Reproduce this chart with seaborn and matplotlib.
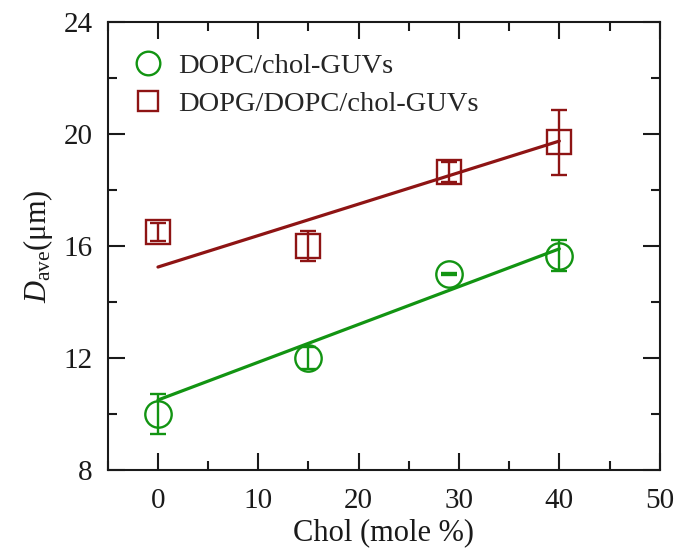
import numpy as np
import pandas as pd
import matplotlib
matplotlib.use("Agg")
import matplotlib.pyplot as plt
import seaborn as sns
from matplotlib.lines import Line2D
from matplotlib.ticker import MultipleLocator

# --- data ---
chol = [0, 15, 29, 40]
dopc_d = [10.0, 12.0, 15.0, 15.65]
dopc_err = [0.7, 0.4, 0.05, 0.55]
dopg_d = [16.5, 16.0, 18.65, 19.7]
dopg_err = [0.31, 0.55, 0.36, 1.15]

# linear fits (end points as drawn)
fit_x = [0, 40]
dopc_fit = [10.5, 15.9]
dopg_fit = [15.25, 19.75]

labels = ["DOPC/chol-GUVs", "DOPG/DOPC/chol-GUVs"]
GREEN = "#129412"
RED = "#8E1414"
INK = "#1a1a1a"

sns.set_theme(style="ticks")
plt.rcParams["font.family"] = ["Liberation Serif", "DejaVu Serif"]
plt.rcParams["mathtext.fontset"] = "custom"
plt.rcParams["mathtext.rm"] = "Liberation Serif"
plt.rcParams["mathtext.it"] = "Liberation Serif:italic"

fig = plt.figure(figsize=(6.78, 5.52), dpi=100)
ax = fig.add_axes([0.159, 0.1486, 0.814, 0.8114])

fits = pd.DataFrame({
    "x": fit_x * 2,
    "y": dopc_fit + dopg_fit,
    "series": [labels[0]] * 2 + [labels[1]] * 2,
})
sns.lineplot(data=fits, x="x", y="y", hue="series", palette=[GREEN, RED],
             linewidth=2.3, legend=False, ax=ax, zorder=3)

ax.errorbar(chol, dopc_d, yerr=dopc_err, fmt="o", ms=19, mfc="none",
            mec=GREEN, mew=1.7, ecolor=GREEN, elinewidth=1.7, capsize=6,
            capthick=1.7, zorder=2)
ax.errorbar(chol, dopg_d, yerr=dopg_err, fmt="s", ms=17, mfc="none",
            mec=RED, mew=1.7, ecolor=RED, elinewidth=1.7, capsize=6,
            capthick=1.7, zorder=2)

ax.set_xlim(-5, 50)
ax.set_ylim(8, 24)
ax.xaxis.set_major_locator(MultipleLocator(10))
ax.xaxis.set_minor_locator(MultipleLocator(5))
ax.yaxis.set_major_locator(MultipleLocator(4))
ax.yaxis.set_minor_locator(MultipleLocator(2))
ax.tick_params(which="both", direction="in", top=True, right=True,
               width=1.5, colors=INK, labelsize=21, labelcolor=INK)
ax.tick_params(which="major", length=12)
ax.tick_params(axis="x", which="major", pad=13)
ax.tick_params(axis="y", which="major", pad=11)
ax.tick_params(which="minor", length=6.5)
for s in ax.spines.values():
    s.set_visible(True)
    s.set_linewidth(1.5)
    s.set_color(INK)

ax.set_xlabel("Chol (mole %)", fontsize=22, color=INK, labelpad=3)
ax.set_ylabel(r"$D_{\rm ave}$(μm)", fontsize=22, color=INK, labelpad=6)

handles = [
    Line2D([], [], marker="o", ls="none", ms=17, mfc="none", mec=GREEN, mew=1.7),
    Line2D([], [], marker="s", ls="none", ms=15, mfc="none", mec=RED, mew=1.7),
]
ax.legend(handles, labels, loc="upper left", frameon=False, fontsize=20.5,
          handletextpad=0.15, labelspacing=0.42, borderaxespad=0.3,
          handlelength=1.8, bbox_to_anchor=(-0.01, 0.975))

fig.savefig("out.png", dpi=100)
